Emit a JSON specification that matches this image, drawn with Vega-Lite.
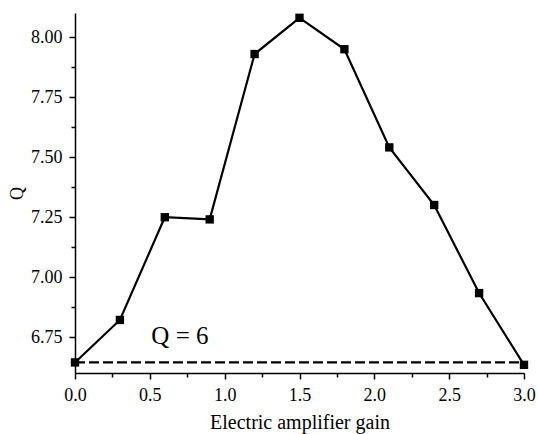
{
  "$schema": "https://vega.github.io/schema/vega-lite/v6.json",
  "autosize": "none",
  "width": 449,
  "height": 360,
  "padding": {"left": 75, "top": 13, "right": 15, "bottom": 61},
  "background": "white",
  "config": {
    "view": {"stroke": null},
    "font": "Times New Roman, Liberation Serif, serif",
    "axis": {
      "grid": false,
      "domainColor": "black",
      "domainWidth": 1.5,
      "tickColor": "black",
      "tickWidth": 1.5,
      "labelColor": "black",
      "titleColor": "black",
      "labelFont": "Times New Roman, Liberation Serif, serif",
      "titleFont": "Times New Roman, Liberation Serif, serif",
      "labelFontSize": 18,
      "titleFontSize": 18,
      "titleFontWeight": "normal",
      "labelPadding": 7
    }
  },
  "datasets": {
    "pts": [
      {"gain": 0.0, "Q": 6.644},
      {"gain": 0.3, "Q": 6.821},
      {"gain": 0.6, "Q": 7.249},
      {"gain": 0.9, "Q": 7.240},
      {"gain": 1.2, "Q": 7.929},
      {"gain": 1.5, "Q": 8.080},
      {"gain": 1.8, "Q": 7.949},
      {"gain": 2.1, "Q": 7.540},
      {"gain": 2.4, "Q": 7.300},
      {"gain": 2.7, "Q": 6.933},
      {"gain": 3.0, "Q": 6.634}
    ],
    "ref": [
      {"gain": 0.0, "Q": 6.644},
      {"gain": 3.0, "Q": 6.644}
    ],
    "lbl": [
      {"gain": 0.51, "Q": 6.72, "text": "Q = 6"}
    ]
  },
  "encoding": {
    "x": {
      "field": "gain",
      "type": "quantitative",
      "scale": {"domain": [0, 3], "nice": false, "zero": false},
      "axis": {
        "title": "Electric amplifier gain",
        "titleFontSize": 20,
        "titlePadding": 8,
        "values": [0, 0.25, 0.5, 0.75, 1, 1.25, 1.5, 1.75, 2, 2.25, 2.5, 2.75, 3],
        "format": ".1f",
        "labelExpr": "abs(datum.value*2 - round(datum.value*2)) < 0.01 ? datum.label : ''",
        "tickSize": {"condition": {"test": "abs(datum.value*2 - round(datum.value*2)) < 0.01", "value": 6}, "value": 4},
        "labelFlush": false,
        "labelOverlap": false
      }
    },
    "y": {
      "field": "Q",
      "type": "quantitative",
      "scale": {"domain": [6.6, 8.1], "nice": false, "zero": false},
      "axis": {
        "title": "Q",
        "titlePadding": 4,
        "values": [6.75, 6.875, 7, 7.125, 7.25, 7.375, 7.5, 7.625, 7.75, 7.875, 8],
        "format": ".2f",
        "labelExpr": "abs(datum.value*4 - round(datum.value*4)) < 0.01 ? datum.label : ''",
        "tickSize": {"condition": {"test": "abs(datum.value*4 - round(datum.value*4)) < 0.01", "value": 6}, "value": 4},
        "labelFlush": false,
        "labelOverlap": false
      }
    }
  },
  "layer": [
    {
      "data": {"name": "ref"},
      "mark": {"type": "line", "color": "black", "strokeWidth": 2.2, "strokeDash": [10, 4]}
    },
    {
      "data": {"name": "pts"},
      "mark": {"type": "line", "color": "black", "strokeWidth": 2.2}
    },
    {
      "data": {"name": "pts"},
      "mark": {"type": "point", "shape": "square", "filled": true, "color": "black", "opacity": 1, "size": 70}
    },
    {
      "data": {"name": "lbl"},
      "mark": {"type": "text", "align": "left", "baseline": "alphabetic", "fontSize": 25, "font": "Times New Roman, Liberation Serif, serif", "color": "black"},
      "encoding": {"text": {"field": "text"}}
    }
  ]
}
